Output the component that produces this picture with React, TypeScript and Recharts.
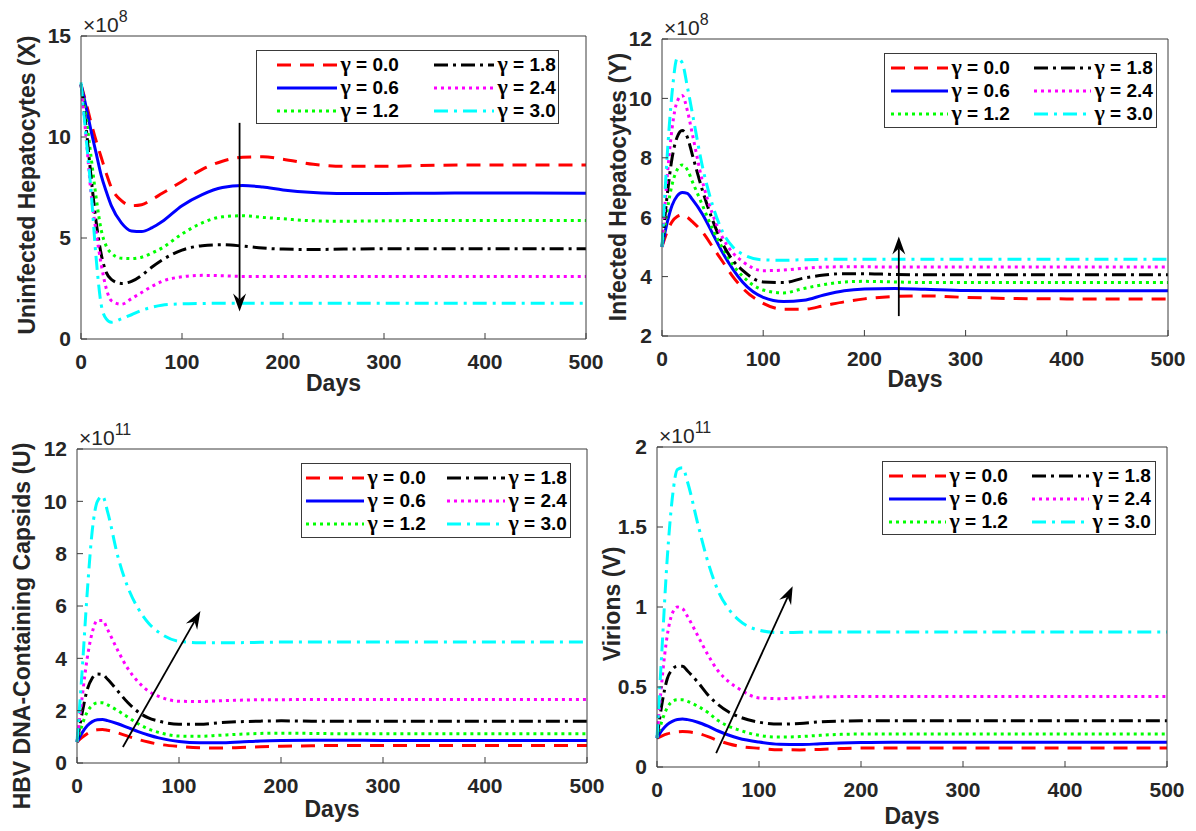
import React from 'react';
import { LineChart, Line, XAxis, YAxis, ReferenceLine, Legend } from 'recharts';

// ---------- data ----------
const DAYS = [0, 5, 10, 15, 20, 25, 30, 40, 50, 60, 70, 80, 100, 120, 140, 160, 180, 200, 230, 260, 300, 350, 400, 500];
const X_TICKS = [0, 100, 200, 300, 400, 500];
const GAMMA_LABELS = ['γ = 0.0', 'γ = 0.6', 'γ = 1.2', 'γ = 1.8', 'γ = 2.4', 'γ = 3.0'];

// Uninfected hepatocytes X (x10^8)
const X_G00 = [12.6, 11.7, 10.7, 9.8, 9.0, 8.2, 7.5, 6.85, 6.6, 6.65, 6.9, 7.2, 7.8, 8.4, 8.8, 9.0, 9.02, 8.9, 8.65, 8.55, 8.55, 8.6, 8.62, 8.62];
const X_G06 = [12.6, 11.5, 10.3, 9.2, 8.1, 7.3, 6.6, 5.75, 5.35, 5.32, 5.5, 5.8, 6.6, 7.15, 7.5, 7.6, 7.52, 7.38, 7.25, 7.2, 7.2, 7.22, 7.23, 7.22];
const X_G12 = [12.6, 11.0, 9.0, 7.0, 5.4, 4.6, 4.25, 4.0, 3.98, 4.05, 4.25, 4.5, 5.2, 5.75, 6.05, 6.1, 6.02, 5.95, 5.85, 5.83, 5.85, 5.87, 5.87, 5.87];
const X_G18 = [12.6, 10.5, 8.0, 5.8, 4.2, 3.3, 2.95, 2.75, 2.85, 3.15, 3.55, 3.9, 4.4, 4.62, 4.67, 4.6, 4.5, 4.45, 4.43, 4.45, 4.47, 4.47, 4.47, 4.47];
const X_G24 = [12.6, 10.0, 7.2, 5.3, 3.7, 2.5, 1.9, 1.72, 2.0, 2.3, 2.6, 2.85, 3.08, 3.15, 3.13, 3.1, 3.1, 3.1, 3.1, 3.1, 3.1, 3.1, 3.1, 3.1];
const X_G30 = [12.7, 10.0, 7.3, 4.0, 1.7, 1.0, 0.83, 1.0, 1.2, 1.42, 1.57, 1.67, 1.74, 1.76, 1.77, 1.77, 1.77, 1.77, 1.77, 1.77, 1.77, 1.77, 1.77, 1.77];
const X_Y_TICKS = [0, 5, 10, 15];

// Infected hepatocytes Y (x10^8)
const Y_G00 = [5.0, 5.5, 5.85, 6.02, 6.08, 6.0, 5.85, 5.5, 5.0, 4.5, 4.0, 3.6, 3.1, 2.9, 2.9, 3.02, 3.15, 3.25, 3.33, 3.35, 3.3, 3.26, 3.25, 3.25];
const Y_G06 = [5.0, 5.8, 6.4, 6.72, 6.83, 6.8, 6.6, 6.1, 5.45, 4.8, 4.25, 3.8, 3.3, 3.16, 3.2, 3.38, 3.52, 3.58, 3.6, 3.57, 3.53, 3.52, 3.52, 3.52];
const Y_G12 = [5.0, 6.2, 7.1, 7.6, 7.76, 7.6, 7.2, 6.4, 5.6, 4.95, 4.4, 4.0, 3.55, 3.45, 3.6, 3.73, 3.82, 3.84, 3.82, 3.8, 3.8, 3.8, 3.8, 3.8];
const Y_G18 = [5.0, 6.7, 8.0, 8.7, 8.92, 8.7, 8.1, 6.9, 5.9, 5.1, 4.55, 4.2, 3.82, 3.8, 3.95, 4.05, 4.1, 4.1, 4.07, 4.06, 4.06, 4.06, 4.06, 4.06];
const Y_G24 = [5.0, 7.3, 9.0, 9.9, 10.1, 9.6, 8.8, 7.2, 6.1, 5.3, 4.8, 4.5, 4.2, 4.22, 4.28, 4.32, 4.33, 4.33, 4.32, 4.32, 4.32, 4.32, 4.32, 4.32];
const Y_G30 = [5.0, 8.0, 10.2, 11.35, 11.2, 10.4, 9.5, 7.7, 6.4, 5.5, 5.0, 4.75, 4.56, 4.55, 4.57, 4.58, 4.58, 4.58, 4.58, 4.58, 4.58, 4.58, 4.58, 4.58];
const Y_Y_TICKS = [2, 4, 6, 8, 10, 12];

// HBV DNA-containing capsids U (x10^11)
const U_G00 = [0.8, 0.98, 1.12, 1.22, 1.27, 1.28, 1.25, 1.15, 1.02, 0.9, 0.8, 0.72, 0.63, 0.58, 0.57, 0.59, 0.62, 0.64, 0.66, 0.67, 0.67, 0.67, 0.67, 0.67];
const U_G06 = [0.8, 1.15, 1.42, 1.58, 1.65, 1.66, 1.62, 1.5, 1.35, 1.2, 1.07, 0.96, 0.82, 0.77, 0.77, 0.8, 0.84, 0.86, 0.87, 0.87, 0.86, 0.86, 0.86, 0.86];
const U_G12 = [0.8, 1.45, 1.95, 2.2, 2.3, 2.3, 2.22, 2.0, 1.75, 1.5, 1.3, 1.17, 1.03, 1.02, 1.06, 1.1, 1.13, 1.14, 1.13, 1.12, 1.12, 1.12, 1.12, 1.12];
const U_G18 = [0.8, 1.9, 2.8, 3.25, 3.4, 3.38, 3.2, 2.75, 2.3, 1.95, 1.72, 1.6, 1.48, 1.48, 1.54, 1.58, 1.6, 1.61, 1.6, 1.6, 1.6, 1.6, 1.6, 1.6];
const U_G24 = [0.8, 2.5, 4.0, 5.0, 5.45, 5.45, 5.1, 4.3, 3.6, 3.1, 2.75, 2.55, 2.36, 2.35, 2.38, 2.4, 2.42, 2.42, 2.43, 2.43, 2.43, 2.43, 2.43, 2.43];
const U_G30 = [0.8, 3.5, 6.5, 8.9, 10.0, 10.2, 9.6, 7.9, 6.7, 5.9, 5.35, 5.0, 4.65, 4.6, 4.6, 4.6, 4.61, 4.62, 4.62, 4.62, 4.62, 4.62, 4.62, 4.62];
const U_Y_TICKS = [0, 2, 4, 6, 8, 10, 12];

// Virions V (x10^11)
const V_G00 = [0.18, 0.195, 0.207, 0.215, 0.22, 0.222, 0.22, 0.21, 0.19, 0.165, 0.145, 0.13, 0.117, 0.108, 0.107, 0.11, 0.115, 0.118, 0.118, 0.118, 0.118, 0.118, 0.118, 0.118];
const V_G06 = [0.18, 0.23, 0.265, 0.285, 0.297, 0.3, 0.296, 0.28, 0.255, 0.225, 0.2, 0.18, 0.156, 0.142, 0.14, 0.145, 0.15, 0.153, 0.155, 0.155, 0.154, 0.154, 0.154, 0.154];
const V_G12 = [0.18, 0.29, 0.37, 0.41, 0.42, 0.42, 0.41, 0.38, 0.34, 0.29, 0.255, 0.232, 0.198, 0.187, 0.19, 0.198, 0.204, 0.206, 0.206, 0.206, 0.206, 0.206, 0.206, 0.206];
const V_G18 = [0.18, 0.4, 0.55, 0.61, 0.63, 0.63, 0.6, 0.53, 0.45, 0.39, 0.345, 0.315, 0.28, 0.268, 0.272, 0.282, 0.287, 0.289, 0.289, 0.289, 0.289, 0.289, 0.289, 0.289];
const V_G24 = [0.18, 0.55, 0.82, 0.96, 1.0, 0.99, 0.94, 0.82, 0.7, 0.6, 0.535, 0.49, 0.432, 0.427, 0.433, 0.438, 0.44, 0.441, 0.441, 0.441, 0.441, 0.441, 0.441, 0.441];
const V_G30 = [0.18, 0.75, 1.3, 1.68, 1.86, 1.87, 1.78, 1.52, 1.28, 1.1, 0.99, 0.92, 0.855, 0.84, 0.842, 0.844, 0.844, 0.844, 0.844, 0.844, 0.844, 0.844, 0.844, 0.844];
const V_Y_TICKS = [0, 0.5, 1, 1.5, 2];

// annotation arrows (data coordinates: day, value)
const ARROW_X = [{ x: 157, y: 10.7 }, { x: 157, y: 1.36 }];
const ARROW_Y = [{ x: 234, y: 2.67 }, { x: 234, y: 5.35 }];
const ARROW_U = [{ x: 45, y: 0.61 }, { x: 121, y: 5.81 }];
const ARROW_V = [{ x: 58, y: 0.087 }, { x: 133, y: 1.13 }];

// ---------- styles ----------
const FONT = "'Liberation Sans', Arial, Helvetica, sans-serif";
const GREEK_FONT = "'Liberation Serif', 'DejaVu Serif', serif";
const AXIS_COLOR = '#3c3c3c';
const TEXT_COLOR = '#262626';
const SERIES_STYLE = [
  { color: '#ff0000', dash: '14 9' },
  { color: '#0000ff', dash: undefined },
  { color: '#00ff00', dash: '3 4' },
  { color: '#000000', dash: '14 5 3 5' },
  { color: '#ff00ff', dash: '3 4' },
  { color: '#00ffff', dash: '14 6 3 6' },
];
const LEGEND_ROWS = [15, 38, 61];

const PANELS = [
  {
    id: 'X', series: [X_G00, X_G06, X_G12, X_G18, X_G24, X_G30], yDomain: [0, 15], yTicks: X_Y_TICKS, exp: '8',
    yLabel: 'Uninfected Hepatocytes (X)', arrow: ARROW_X,
    frame: { x: 0, y: 0, w: 620, h: 412 }, plot: { l: 81, t: 36, r: 586, b: 339 },
    yLabelPos: { x: 27, y: 185 }, daysY: 383,
    legend: { x: 256, y: 50, w: 303, h: 74, padL: 21, lineLen: 60, col2: 157 },
  },
  {
    id: 'Y', series: [Y_G00, Y_G06, Y_G12, Y_G18, Y_G24, Y_G30], yDomain: [2, 12], yTicks: Y_Y_TICKS, exp: '8',
    yLabel: 'Infected Hepatocytes (Y)', arrow: ARROW_Y,
    frame: { x: 590, y: 0, w: 606, h: 412 }, plot: { l: 662, t: 39, r: 1168, b: 336 },
    yLabelPos: { x: 618, y: 187 }, daysY: 379,
    legend: { x: 884, y: 53, w: 273, h: 75, padL: 7, lineLen: 57, col2: 143 },
  },
  {
    id: 'U', series: [U_G00, U_G06, U_G12, U_G18, U_G24, U_G30], yDomain: [0, 12], yTicks: U_Y_TICKS, exp: '11',
    yLabel: 'HBV DNA-Containing Capsids (U)', arrow: ARROW_U,
    frame: { x: 0, y: 415, w: 620, h: 416 }, plot: { l: 77, t: 449, r: 587, b: 763 },
    yLabelPos: { x: 22, y: 626 }, daysY: 809,
    legend: { x: 301, y: 463, w: 270, h: 75, padL: 5, lineLen: 58, col2: 141 },
  },
  {
    id: 'V', series: [V_G00, V_G06, V_G12, V_G18, V_G24, V_G30], yDomain: [0, 2], yTicks: V_Y_TICKS, exp: '11',
    yLabel: 'Virions (V)', arrow: ARROW_V,
    frame: { x: 590, y: 415, w: 606, h: 416 }, plot: { l: 657, t: 447, r: 1167, b: 767 },
    yLabelPos: { x: 612, y: 604 }, daysY: 816,
    legend: { x: 882, y: 461, w: 274, h: 74, padL: 7, lineLen: 57, col2: 143 },
  },
];

function arrowShape(props: any) {
  const { x1, y1, x2, y2 } = props;
  if ([x1, y1, x2, y2].some((v) => typeof v !== 'number' || isNaN(v))) return <g />;
  const dx = x2 - x1;
  const dy = y2 - y1;
  const len = Math.hypot(dx, dy) || 1;
  const ux = dx / len;
  const uy = dy / len;
  const nx = -uy;
  const ny = ux;
  const L = 18;
  const W = 6.5;
  const N = 12;
  const bx = x2 - ux * L;
  const by = y2 - uy * L;
  const pts = [
    [x2, y2],
    [bx + nx * W, by + ny * W],
    [x2 - ux * N, y2 - uy * N],
    [bx - nx * W, by - ny * W],
  ]
    .map((p) => p.join(','))
    .join(' ');
  return (
    <g>
      <line x1={x1} y1={y1} x2={x2 - ux * N} y2={y2 - uy * N} stroke="#000" strokeWidth={1.8} />
      <polygon points={pts} fill="#000" />
    </g>
  );
}

function LegendBox({ cfg }: { cfg: any }) {
  return (
    <div
      style={{
        width: cfg.w,
        height: cfg.h,
        border: '1.5px solid #3a3a3a',
        background: '#fff',
        position: 'relative',
        boxSizing: 'border-box',
      }}
    >
      {GAMMA_LABELS.map((lab, i) => {
        const col = Math.floor(i / 3);
        const row = i % 3;
        const st = SERIES_STYLE[i];
        return (
          <div
            key={lab}
            style={{
              position: 'absolute',
              left: cfg.padL + col * cfg.col2 - 1.5,
              top: LEGEND_ROWS[row] - 12 - 1.5,
              height: 24,
              display: 'flex',
              alignItems: 'center',
              whiteSpace: 'nowrap',
            }}
          >
            <svg width={cfg.lineLen} height={8} style={{ display: 'block' }}>
              <line x1={0} y1={4} x2={cfg.lineLen} y2={4} stroke={st.color} strokeWidth={3} strokeDasharray={st.dash} />
            </svg>
            <span style={{ marginLeft: 4, fontFamily: FONT, fontWeight: 'bold', fontSize: 19, color: '#000', lineHeight: '24px' }}>
              <span style={{ fontFamily: GREEK_FONT, fontSize: 22 }}>{lab.slice(0, 1)}</span>
              {lab.slice(1)}
            </span>
          </div>
        );
      })}
    </div>
  );
}

function Panel({ p }: { p: any }) {
  const f = p.frame;
  const pl = p.plot.l - f.x;
  const pt = p.plot.t - f.y;
  const pr = p.plot.r - f.x;
  const pb = p.plot.b - f.y;
  const YW = 55;
  const XH = 55;
  const margin = { left: pl - YW, top: pt - 1, right: f.w - pr - 1, bottom: f.h - pb - XH };
  const data = DAYS.map((d, i) => {
    const row: any = { day: d };
    p.series.forEach((s: number[], j: number) => {
      row['g' + j] = s[i];
    });
    return row;
  });
  const lx = p.yLabelPos.x - f.x;
  const ly = p.yLabelPos.y - f.y;
  const yLabelContent = () => (
    <g>
      <text
        x={lx}
        y={ly}
        transform={`rotate(-90, ${lx}, ${ly})`}
        textAnchor="middle"
        dominantBaseline="central"
        fontFamily={FONT}
        fontWeight="bold"
        fontSize={23}
        fill={TEXT_COLOR}
      >
        {p.yLabel}
      </text>
      <text x={pl + 2} y={pt - 4} fontFamily={FONT} fontSize={21} fill={TEXT_COLOR}>
        ×10
        <tspan dy={-10} fontSize={16}>
          {p.exp}
        </tspan>
      </text>
    </g>
  );
  const xLabelContent = () => (
    <text
      x={(pl + pr) / 2}
      y={p.daysY - f.y}
      textAnchor="middle"
      dominantBaseline="central"
      fontFamily={FONT}
      fontWeight="bold"
      fontSize={23}
      fill={TEXT_COLOR}
    >
      Days
    </text>
  );
  const tickStyle = { fill: TEXT_COLOR, fontSize: 21, fontWeight: 'bold', fontFamily: FONT };
  const lg = p.legend;
  return (
    <div style={{ position: 'absolute', left: f.x, top: f.y, width: f.w, height: f.h }}>
      <LineChart width={f.w} height={f.h} data={data} margin={margin}>
        <XAxis
          dataKey="day"
          type="number"
          domain={[0, 500]}
          ticks={X_TICKS}
          interval={0}
          height={XH}
          tickSize={-6}
          tickMargin={21}
          stroke={AXIS_COLOR}
          tick={tickStyle}
          label={{ content: xLabelContent }}
        />
        <XAxis
          xAxisId="top"
          orientation="top"
          dataKey="day"
          type="number"
          domain={[0, 500]}
          ticks={X_TICKS}
          interval={0}
          height={1}
          tickSize={-6}
          tick={false}
          stroke={AXIS_COLOR}
        />
        <YAxis
          type="number"
          domain={p.yDomain}
          ticks={p.yTicks}
          interval={0}
          width={YW}
          tickSize={-6}
          tickMargin={16}
          stroke={AXIS_COLOR}
          tick={tickStyle}
          label={{ content: yLabelContent }}
        />
        <YAxis
          yAxisId="right"
          orientation="right"
          type="number"
          domain={p.yDomain}
          ticks={p.yTicks}
          interval={0}
          width={1}
          tickSize={-6}
          tick={false}
          stroke={AXIS_COLOR}
        />
        {SERIES_STYLE.map((st, j) => (
          <Line
            key={j}
            type="monotone"
            dataKey={'g' + j}
            name={GAMMA_LABELS[j]}
            stroke={st.color}
            strokeWidth={3}
            strokeDasharray={st.dash}
            dot={false}
            activeDot={false}
            isAnimationActive={false}
          />
        ))}
        <ReferenceLine segment={p.arrow} shape={arrowShape} ifOverflow="visible" />
        <Legend
          layout="horizontal"
          verticalAlign="middle"
          align="center"
          content={() => <LegendBox cfg={lg} />}
          wrapperStyle={{ left: lg.x - f.x, top: lg.y - f.y, width: lg.w, height: lg.h, right: 'auto', bottom: 'auto' }}
        />
      </LineChart>
    </div>
  );
}

export default function App() {
  return (
    <div style={{ position: 'absolute', left: 0, top: 0, width: 1196, height: 831, background: '#fff' }}>
      {PANELS.map((p) => (
        <Panel key={p.id} p={p} />
      ))}
    </div>
  );
}
